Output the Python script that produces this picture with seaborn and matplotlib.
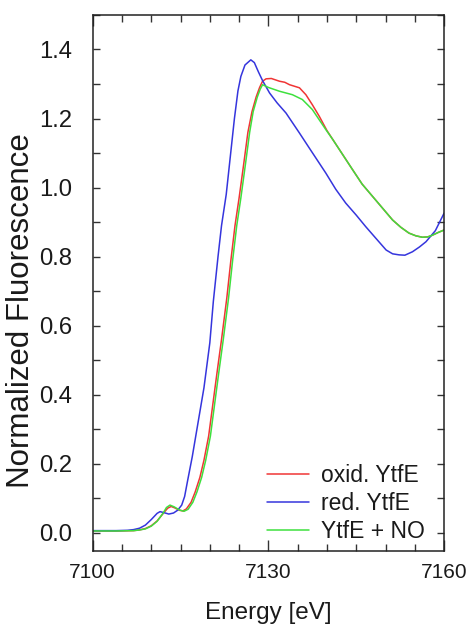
import numpy as np
import pandas as pd
import seaborn as sns
import matplotlib.pyplot as plt
from matplotlib.ticker import MultipleLocator

# energies (eV) and normalized fluorescence
oxid_e = [7100, 7104, 7107, 7108, 7109, 7110, 7111, 7112, 7112.8, 7113.4, 7114, 7114.8,
          7115.4, 7116, 7116.8, 7117.5, 7118.3, 7119.0, 7119.8, 7120.5, 7121.2, 7122,
          7122.9, 7123.6, 7124.3, 7125.0, 7125.8, 7126.5, 7127.2, 7127.9, 7128.5, 7129.0,
          7129.6, 7130.5, 7131.9, 7132.8, 7133.6, 7135.3, 7136.4, 7137.5, 7138.7, 7140,
          7141.0, 7142.7, 7144.4, 7146, 7147.8, 7149.5, 7151.2, 7152.6, 7154.0, 7155.2,
          7156.3, 7157.2, 7158.0, 7159, 7160]
oxid_v = [0.005, 0.005, 0.006, 0.008, 0.012, 0.020, 0.034, 0.055, 0.071, 0.076, 0.072, 0.065,
          0.063, 0.069, 0.088, 0.118, 0.160, 0.210, 0.280, 0.370, 0.460, 0.560,
          0.680, 0.790, 0.890, 0.970, 1.070, 1.160, 1.220, 1.262, 1.290, 1.308,
          1.315, 1.316, 1.308, 1.305, 1.298, 1.289, 1.269, 1.240, 1.206, 1.165,
          1.139, 1.095, 1.051, 1.010, 0.974, 0.940, 0.906, 0.885, 0.868, 0.860,
          0.856, 0.857, 0.862, 0.870, 0.877]

red_e = [7100, 7104, 7106, 7107, 7108, 7109, 7110, 7111, 7111.5, 7112.2, 7113, 7113.8,
         7114.5, 7115.2, 7115.7, 7116.2, 7117, 7118, 7119, 7120, 7120.6, 7121.4, 7122,
         7122.8, 7123.5, 7124.2, 7124.8, 7125.3, 7126, 7127, 7127.6, 7128.3, 7129,
         7130.2, 7131.5, 7133.0, 7135.3, 7137.0, 7139.8, 7141.5, 7143.2, 7145, 7146.6,
         7148.5, 7150.1, 7151.2, 7152.3, 7153.3, 7154.6, 7155.8, 7156.9, 7158.5, 7160]
red_v = [0.006, 0.006, 0.007, 0.009, 0.013, 0.022, 0.038, 0.056, 0.061, 0.058, 0.054, 0.057,
         0.065, 0.080, 0.105, 0.150, 0.220, 0.320, 0.420, 0.550, 0.670, 0.800, 0.890,
         0.980, 1.090, 1.200, 1.280, 1.322, 1.355, 1.370, 1.362, 1.335, 1.310,
         1.274, 1.245, 1.216, 1.158, 1.114, 1.042, 0.995, 0.955, 0.920, 0.887,
         0.850, 0.819, 0.808, 0.805, 0.804, 0.814, 0.828, 0.843, 0.875, 0.926]

no_e = [7100, 7104, 7107, 7108, 7109, 7110, 7111, 7112, 7112.6, 7113.2, 7113.9, 7114.8,
        7115.6, 7116.3, 7117.1, 7117.8, 7118.6, 7119.3, 7120.1, 7120.8, 7121.5, 7122.3,
        7123.2, 7123.9, 7124.6, 7125.3, 7126.1, 7126.8, 7127.4, 7128.1, 7128.6, 7129.0,
        7130, 7131.9, 7134.1, 7135.8, 7137.5, 7139.8, 7141.0, 7142.7, 7144.4, 7146,
        7147.8, 7149.5, 7151.2, 7152.6, 7154.0, 7155.2, 7156.3, 7157.2, 7158.0, 7159, 7160]
no_v = [0.005, 0.005, 0.006, 0.008, 0.011, 0.019, 0.033, 0.056, 0.073, 0.080, 0.075, 0.066,
        0.062, 0.068, 0.088, 0.118, 0.160, 0.210, 0.280, 0.370, 0.460, 0.560,
        0.680, 0.790, 0.890, 0.970, 1.070, 1.160, 1.220, 1.262, 1.285, 1.298,
        1.290, 1.279, 1.269, 1.255, 1.226, 1.168, 1.139, 1.095, 1.051, 1.010,
        0.974, 0.940, 0.906, 0.885, 0.868, 0.860, 0.856, 0.857, 0.862, 0.870, 0.877]

labels = ["oxid. YtfE", "red. YtfE", "YtfE + NO"]

df = pd.concat([
    pd.DataFrame({"Energy": oxid_e, "Fluo": oxid_v, "Sample": labels[0]}),
    pd.DataFrame({"Energy": red_e, "Fluo": red_v, "Sample": labels[1]}),
    pd.DataFrame({"Energy": no_e, "Fluo": no_v, "Sample": labels[2]}),
])

sns.set_style("ticks")
plt.rcParams["font.family"] = ["Liberation Sans", "DejaVu Sans"]
plt.rcParams["text.color"] = "#1a1a1a"
plt.rcParams["axes.labelcolor"] = "#1a1a1a"
plt.rcParams["xtick.labelcolor"] = "#1a1a1a"
plt.rcParams["ytick.labelcolor"] = "#1a1a1a"

palette = {
    "oxid. YtfE": "#f03535",
    "red. YtfE": "#3535dd",
    "YtfE + NO": "#3ee03e",
}

fig = plt.figure(figsize=(4.68, 6.24), dpi=100)
ax = fig.add_axes([0.198, 0.117, 0.751, 0.859])

sns.lineplot(data=df, x="Energy", y="Fluo", hue="Sample", hue_order=labels,
             palette=palette, linewidth=1.1, estimator=None, sort=False, ax=ax)

ax.set_xlim(7100, 7160)
ax.set_ylim(-0.053, 1.5)
ax.set_xticks([7100, 7130, 7160])
ax.xaxis.set_minor_locator(MultipleLocator(5))
ax.yaxis.set_major_locator(MultipleLocator(0.2))
ax.yaxis.set_minor_locator(MultipleLocator(0.1))
ax.yaxis.set_major_formatter(plt.FuncFormatter(lambda v, p: f"{v:.1f}"))

ax.tick_params(which="both", direction="in", top=True, right=True, width=1.0,
               color="#333333")
ax.tick_params(axis="x", which="major", length=8, labelsize=15, pad=9)
ax.tick_params(axis="x", which="minor", length=5)
ax.tick_params(axis="y", which="both", length=5)
ax.tick_params(axis="y", which="major", labelsize=17.2, pad=15)

for sp in ax.spines.values():
    sp.set_linewidth(1.1)
    sp.set_color("#222222")

ax.set_xlabel("Energy [eV]", fontsize=17.5, labelpad=14)
ax.set_ylabel("Normalized Fluorescence", fontsize=22.5)
ax.yaxis.set_label_coords(-0.16, 0.448)

handles, _ = ax.get_legend_handles_labels()
ax.legend(handles, labels, loc="upper left", bbox_to_anchor=(0.496, 0.162),
          frameon=False, fontsize=16.5, handlelength=1.85, handletextpad=0.5,
          labelspacing=0.22, borderpad=0, borderaxespad=0)

fig.savefig("out.png", dpi=100)
